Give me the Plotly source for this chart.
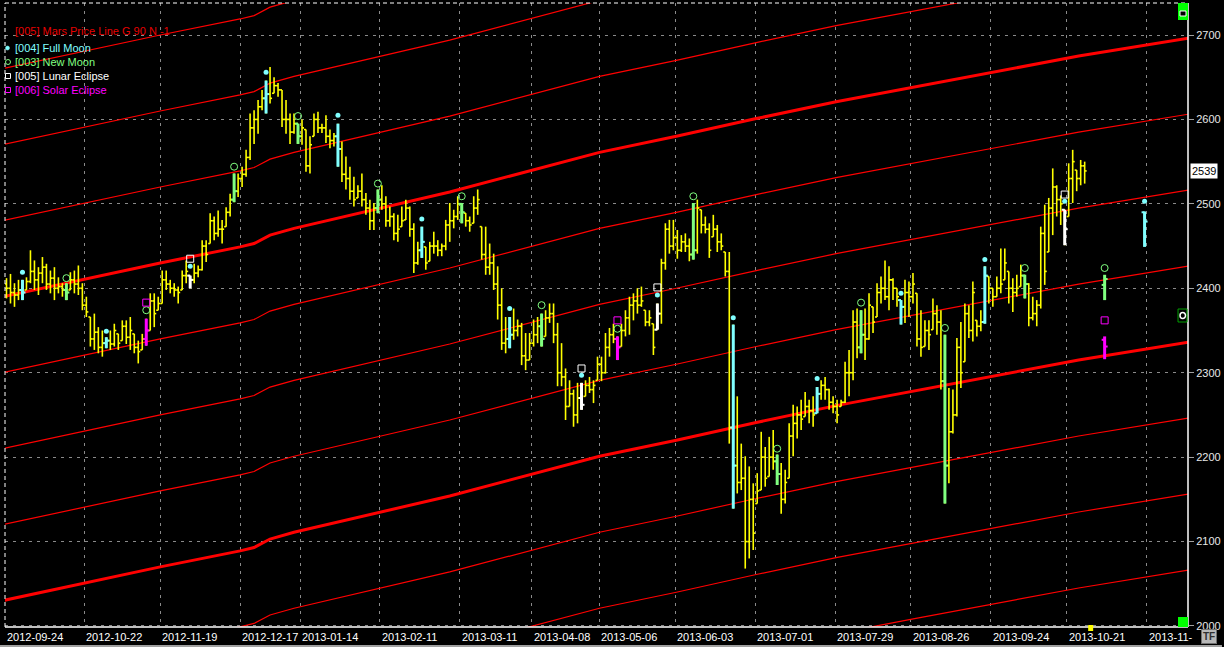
import plotly.graph_objects as go

# ---------------- data ----------------
date_labels = ["2012-09-24", "2012-10-22", "2012-11-19", "2012-12-17", "2013-01-14",
               "2013-02-11", "2013-03-11", "2013-04-08", "2013-05-06", "2013-06-03",
               "2013-07-01", "2013-07-29", "2013-08-26", "2013-09-24", "2013-10-21", "2013-11-"]
date_idx = [0, 20, 39, 59, 74, 94, 114, 132, 149, 168, 188, 208, 227, 247, 266, 286]

bar_hi = [2412, 2417, 2406, 2410, 2410, 2413, 2445, 2433, 2425, 2437, 2429, 2421, 2425, 2413, 2406, 2406,
          2419, 2421, 2427, 2406, 2390, 2366, 2370, 2354, 2350, 2342, 2350, 2358, 2346, 2362, 2362, 2366,
          2346, 2338, 2346, 2364, 2394, 2394, 2390, 2421, 2421, 2410, 2406, 2402, 2421, 2433, 2415, 2429,
          2427, 2457, 2457, 2489, 2485, 2492, 2481, 2496, 2512, 2536, 2536, 2544, 2564, 2607, 2611, 2623,
          2635, 2646, 2662, 2650, 2643, 2635, 2623, 2607, 2607, 2595, 2600, 2588, 2580, 2607, 2609, 2595,
          2605, 2588, 2584, 2595, 2574, 2556, 2544, 2532, 2522, 2536, 2513, 2505, 2501, 2517, 2522, 2509,
          2497, 2489, 2487, 2497, 2505, 2497, 2477, 2455, 2473, 2449, 2455, 2467, 2457, 2453, 2481, 2501,
          2493, 2509, 2501, 2489, 2485, 2509, 2517, 2473, 2473, 2453, 2441, 2426, 2400, 2366, 2366, 2376,
          2363, 2359, 2347, 2347, 2363, 2366, 2370, 2374, 2382, 2382, 2359, 2335, 2305, 2291, 2280, 2288,
          2288, 2291, 2295, 2291, 2319, 2319, 2347, 2353, 2358, 2343, 2358, 2374, 2390, 2394, 2400, 2402,
          2374, 2374, 2358, 2382, 2435, 2477, 2481, 2481, 2469, 2463, 2465, 2459, 2501, 2505, 2493, 2485,
          2477, 2487, 2475, 2465, 2443, 2443, 2357, 2272, 2216, 2201, 2189, 2169, 2181, 2230, 2212, 2224,
          2232, 2203, 2193, 2185, 2240, 2262, 2260, 2268, 2277, 2268, 2272, 2283, 2291, 2295, 2281, 2272,
          2268, 2268, 2313, 2327, 2374, 2376, 2374, 2376, 2394, 2378, 2406, 2414, 2433, 2426, 2412, 2400,
          2386, 2410, 2408, 2418, 2394, 2374, 2362, 2362, 2388, 2380, 2374, 2345, 2282, 2280, 2341, 2360,
          2382, 2380, 2408, 2362, 2374, 2426, 2414, 2400, 2414, 2447, 2447, 2420, 2412, 2416, 2428, 2416,
          2406, 2390, 2386, 2473, 2499, 2507, 2542, 2522, 2510, 2493, 2548, 2564, 2540, 2552, 2550]

bar_lo = [2388, 2382, 2378, 2386, 2386, 2398, 2406, 2398, 2392, 2406, 2398, 2394, 2386, 2394, 2390, 2386,
          2398, 2394, 2392, 2374, 2366, 2331, 2327, 2323, 2319, 2329, 2327, 2331, 2327, 2338, 2334, 2327,
          2323, 2311, 2327, 2332, 2350, 2354, 2374, 2382, 2398, 2394, 2390, 2382, 2398, 2406, 2400, 2406,
          2413, 2421, 2431, 2453, 2457, 2461, 2453, 2473, 2485, 2502, 2508, 2520, 2532, 2552, 2571, 2583,
          2611, 2607, 2619, 2631, 2627, 2591, 2583, 2571, 2583, 2571, 2570, 2538, 2536, 2580, 2584, 2584,
          2572, 2566, 2568, 2544, 2526, 2517, 2505, 2497, 2507, 2497, 2487, 2469, 2469, 2489, 2493, 2473,
          2473, 2457, 2455, 2473, 2481, 2461, 2418, 2428, 2436, 2422, 2432, 2441, 2438, 2438, 2445, 2455,
          2471, 2481, 2477, 2473, 2467, 2477, 2487, 2434, 2416, 2416, 2398, 2363, 2327, 2323, 2329, 2339,
          2343, 2309, 2303, 2315, 2331, 2335, 2331, 2343, 2359, 2335, 2284, 2284, 2244, 2260, 2236, 2240,
          2256, 2272, 2276, 2264, 2291, 2290, 2299, 2319, 2335, 2315, 2331, 2343, 2345, 2362, 2370, 2378,
          2355, 2355, 2321, 2351, 2358, 2422, 2441, 2445, 2435, 2443, 2443, 2432, 2434, 2441, 2465, 2465,
          2436, 2461, 2443, 2445, 2414, 2216, 2139, 2157, 2161, 2068, 2080, 2090, 2145, 2161, 2165, 2177,
          2185, 2167, 2133, 2145, 2175, 2201, 2222, 2232, 2248, 2240, 2236, 2252, 2268, 2268, 2256, 2252,
          2240, 2260, 2264, 2272, 2291, 2317, 2323, 2315, 2339, 2347, 2366, 2382, 2386, 2374, 2386, 2378,
          2357, 2359, 2366, 2382, 2331, 2319, 2331, 2327, 2351, 2345, 2280, 2145, 2169, 2228, 2248, 2282,
          2313, 2341, 2337, 2343, 2349, 2358, 2382, 2378, 2390, 2394, 2410, 2382, 2372, 2390, 2402, 2388,
          2355, 2362, 2355, 2376, 2404, 2443, 2463, 2485, 2475, 2451, 2485, 2501, 2515, 2522, 2524]

bar_op = [2405, 2400, 2395, 2392, 2398, 2398, 2408, 2420, 2410, 2418, 2425, 2405, 2412, 2400, 2402, 2398,
          2398, 2410, 2405, 2400, 2380, 2366, 2340, 2348, 2330, 2335, 2338, 2334, 2346, 2338, 2355, 2342,
          2346, 2330, 2327, 2340, 2350, 2385, 2374, 2382, 2410, 2405, 2400, 2398, 2398, 2415, 2415, 2410,
          2418, 2422, 2450, 2453, 2480, 2465, 2470, 2473, 2490, 2505, 2515, 2530, 2535, 2555, 2590, 2600,
          2615, 2625, 2630, 2631, 2640, 2635, 2600, 2600, 2585, 2595, 2580, 2588, 2545, 2580, 2600, 2590,
          2590, 2580, 2575, 2580, 2565, 2535, 2530, 2515, 2507, 2515, 2505, 2495, 2480, 2495, 2505, 2500,
          2480, 2485, 2465, 2473, 2481, 2495, 2470, 2430, 2445, 2449, 2432, 2450, 2450, 2445, 2450, 2475,
          2480, 2485, 2500, 2489, 2480, 2477, 2495, 2473, 2440, 2425, 2430, 2405, 2380, 2335, 2340, 2345,
          2350, 2355, 2320, 2315, 2335, 2345, 2355, 2343, 2365, 2370, 2345, 2300, 2295, 2260, 2275, 2250,
          2270, 2272, 2285, 2280, 2291, 2310, 2300, 2330, 2345, 2340, 2331, 2350, 2365, 2380, 2385, 2380,
          2374, 2360, 2358, 2351, 2370, 2430, 2470, 2450, 2460, 2445, 2455, 2450, 2440, 2445, 2493, 2475,
          2470, 2461, 2470, 2455, 2443, 2420, 2235, 2190, 2170, 2175, 2100, 2150, 2145, 2161, 2200, 2177,
          2200, 2195, 2180, 2150, 2175, 2225, 2240, 2250, 2248, 2260, 2255, 2252, 2275, 2285, 2280, 2265,
          2260, 2260, 2265, 2300, 2300, 2360, 2330, 2345, 2340, 2378, 2366, 2395, 2400, 2390, 2410, 2400,
          2386, 2378, 2395, 2390, 2394, 2340, 2331, 2350, 2351, 2370, 2360, 2290, 2190, 2230, 2250, 2330,
          2313, 2370, 2350, 2362, 2355, 2360, 2414, 2400, 2390, 2400, 2410, 2420, 2400, 2395, 2402, 2415,
          2405, 2365, 2370, 2380, 2465, 2443, 2495, 2520, 2505, 2493, 2485, 2530, 2540, 2530, 2545]

bar_cl = [2400, 2395, 2392, 2398, 2395, 2408, 2420, 2410, 2418, 2425, 2405, 2412, 2400, 2402, 2398, 2395,
          2410, 2405, 2400, 2380, 2372, 2340, 2348, 2330, 2335, 2338, 2334, 2350, 2335, 2355, 2342, 2350,
          2330, 2325, 2340, 2350, 2385, 2370, 2382, 2410, 2405, 2400, 2398, 2395, 2415, 2420, 2410, 2418,
          2422, 2450, 2440, 2480, 2465, 2470, 2470, 2490, 2505, 2515, 2530, 2535, 2555, 2590, 2600, 2615,
          2625, 2630, 2625, 2640, 2635, 2600, 2600, 2585, 2595, 2580, 2590, 2545, 2570, 2600, 2590, 2590,
          2580, 2575, 2580, 2565, 2535, 2530, 2515, 2505, 2515, 2505, 2495, 2480, 2495, 2505, 2500, 2480,
          2485, 2465, 2470, 2480, 2495, 2470, 2430, 2445, 2455, 2430, 2450, 2450, 2445, 2450, 2475, 2480,
          2485, 2500, 2490, 2480, 2475, 2495, 2505, 2440, 2425, 2430, 2405, 2380, 2335, 2340, 2345, 2350,
          2355, 2320, 2315, 2335, 2345, 2355, 2340, 2365, 2370, 2345, 2300, 2295, 2260, 2275, 2250, 2270,
          2262, 2285, 2280, 2285, 2310, 2300, 2330, 2345, 2340, 2330, 2350, 2365, 2380, 2385, 2380, 2385,
          2360, 2365, 2330, 2370, 2430, 2470, 2450, 2460, 2445, 2455, 2450, 2440, 2445, 2495, 2475, 2470,
          2445, 2470, 2455, 2450, 2420, 2235, 2190, 2170, 2175, 2100, 2150, 2110, 2160, 2200, 2175, 2200,
          2195, 2180, 2150, 2170, 2225, 2240, 2250, 2245, 2260, 2255, 2250, 2275, 2285, 2280, 2265, 2260,
          2250, 2265, 2300, 2300, 2360, 2330, 2345, 2340, 2380, 2360, 2395, 2400, 2390, 2410, 2400, 2390,
          2378, 2395, 2390, 2405, 2340, 2330, 2350, 2345, 2370, 2360, 2290, 2190, 2230, 2250, 2330, 2300,
          2370, 2350, 2395, 2355, 2360, 2415, 2400, 2390, 2400, 2405, 2430, 2400, 2395, 2400, 2415, 2405,
          2365, 2370, 2380, 2465, 2420, 2495, 2520, 2505, 2500, 2470, 2530, 2550, 2530, 2545, 2539]

# astro events (bar index) and the marker level drawn above each bar
full_moon_idx = [4, 25, 46, 65, 83, 104, 126, 144, 163, 182, 203, 224, 245, 265]
full_moon_mark = [2419, 2349, 2426, 2656, 2605, 2482, 2376, 2297, 2392, 2365, 2293, 2394, 2434, 2503]
new_moon_idx = [15, 35, 57, 73, 93, 114, 134, 153, 172, 193, 214, 235, 255]
new_moon_mark = [2412, 2374, 2544, 2604, 2524, 2509, 2380, 2352, 2509, 2210, 2383, 2353, 2424]
lunar_ecl_idx = [46, 144, 163, 265]
lunar_ecl_mark = [2435, 2305, 2401, 2511]
solar_ecl_idx = [35, 153]
solar_ecl_mark = [2383, 2362]

# projected event bars beyond the last price bar
proj_fm = dict(idx=[285], o=[2490], h=[2491], l=[2449], c=[2479], mark=[2503])
proj_nm = dict(idx=[275], o=[2404], h=[2416], l=[2386], c=[2411], mark=[2424])
proj_se = dict(idx=[275], o=[2339], h=[2343], l=[2316], c=[2331], mark=[2362])

# Mars price line (reference harmonic) and the 90-unit harmonics
mars_idx = [-1, 38.5, 58.5, 62, 66, 72, 111, 131, 148.5, 167.75, 187.75, 207.75, 227.75, 256, 268.5, 297]
mars_val = [2390, 2430, 2449, 2453, 2463, 2471, 2514, 2539, 2561, 2580, 2601, 2621, 2639, 2664, 2675, 2697]
mars_offsets = [-630, -540, -450, -360, -270, -180, -90, 0, 90, 180, 270]
mars_thick = [0, -360]

y_ticks = [2000, 2100, 2200, 2300, 2400, 2500, 2600, 2700]

# ---------------- colours / layout constants ----------------
YEL = "#FFFF00"
CYAN = "#80FFFF"
GREEN = "#80FF80"
WHITE = "#FFFFFF"
MAG = "#FF00FF"
RED = "#FF0000"
FONT = "Liberation Sans, Arial, sans-serif"

W, H = 1224, 647
ML, MR, MT, MB = 5, 34, 3, 20
PW = W - ML - MR
PH = H - MT - MB
X0 = -0.375
X1 = X0 + PW / 4.0
Y0, Y1 = 1998.8, 2737.9


def px(x):
    return (x - ML) / PW


def py(y):
    return (H - MB - y) / PH


fig = go.Figure()

# Mars lines
for off in mars_offsets:
    thick = off in mars_thick
    fig.add_trace(go.Scatter(
        x=mars_idx, y=[v + off for v in mars_val], mode="lines",
        line=dict(color=RED, width=3 if thick else 1.2),
        hoverinfo="skip", showlegend=False))


def bar_traces(idx, o, h, l, c, color, vwidth, twidth, tlen):
    xv, yv, xt, yt = [], [], [], []
    for i, oo, hh, ll, cc in zip(idx, o, h, l, c):
        xv += [i, i, None]
        yv += [ll, hh, None]
        xt += [i - tlen, i, None, i, i + tlen, None]
        yt += [oo, oo, None, cc, cc, None]
    fig.add_trace(go.Scatter(x=xv, y=yv, mode="lines", line=dict(color=color, width=vwidth),
                             hoverinfo="skip", showlegend=False))
    fig.add_trace(go.Scatter(x=xt, y=yt, mode="lines", line=dict(color=color, width=twidth),
                             hoverinfo="skip", showlegend=False))


# yellow OHLC bars (every price bar)
n = len(bar_hi)
bar_traces(list(range(n)), bar_op, bar_hi, bar_lo, bar_cl, YEL, 1.6, 1.6, 0.5)


def pick(idx_list):
    return ([bar_op[i] for i in idx_list], [bar_hi[i] for i in idx_list],
            [bar_lo[i] for i in idx_list], [bar_cl[i] for i in idx_list])


fm_plain = [i for i in full_moon_idx if i not in lunar_ecl_idx]
nm_plain = [i for i in new_moon_idx if i not in solar_ecl_idx]

bar_traces(fm_plain, *pick(fm_plain), CYAN, 3, 2, 0.75)
bar_traces(nm_plain, *pick(nm_plain), GREEN, 3, 2, 0.75)
bar_traces(lunar_ecl_idx, *pick(lunar_ecl_idx), WHITE, 3, 2, 0.75)
bar_traces(solar_ecl_idx, *pick(solar_ecl_idx), MAG, 3, 2, 0.75)
bar_traces(proj_fm["idx"], proj_fm["o"], proj_fm["h"], proj_fm["l"], proj_fm["c"], CYAN, 3, 2, 0.75)
bar_traces(proj_nm["idx"], proj_nm["o"], proj_nm["h"], proj_nm["l"], proj_nm["c"], GREEN, 3, 2, 0.75)
bar_traces(proj_se["idx"], proj_se["o"], proj_se["h"], proj_se["l"], proj_se["c"], MAG, 3, 2, 0.75)

# event markers
fig.add_trace(go.Scatter(x=full_moon_idx + proj_fm["idx"], y=full_moon_mark + proj_fm["mark"],
                         mode="markers", marker=dict(symbol="circle", size=5, color=CYAN),
                         hoverinfo="skip", showlegend=False))
fig.add_trace(go.Scatter(x=new_moon_idx + proj_nm["idx"], y=new_moon_mark + proj_nm["mark"],
                         mode="markers",
                         marker=dict(symbol="circle-open", size=7, color=GREEN, line=dict(width=1)),
                         hoverinfo="skip", showlegend=False))
fig.add_trace(go.Scatter(x=lunar_ecl_idx, y=lunar_ecl_mark, mode="markers",
                         marker=dict(symbol="square-open", size=7, color=WHITE, line=dict(width=1)),
                         hoverinfo="skip", showlegend=False))
fig.add_trace(go.Scatter(x=solar_ecl_idx + proj_se["idx"], y=solar_ecl_mark + proj_se["mark"],
                         mode="markers",
                         marker=dict(symbol="square-open", size=7, color=MAG, line=dict(width=1)),
                         hoverinfo="skip", showlegend=False))

shapes = []
# plot frame: dashed white left/top, solid white right/bottom
shapes.append(dict(type="line", xref="paper", yref="paper", x0=0, x1=0, y0=0, y1=1,
                   line=dict(color=WHITE, width=1, dash="4px,3px")))
shapes.append(dict(type="line", xref="paper", yref="paper", x0=0, x1=1, y0=1, y1=1,
                   line=dict(color=WHITE, width=1, dash="4px,3px")))
shapes.append(dict(type="line", xref="paper", yref="paper", x0=1, x1=1, y0=0, y1=1,
                   line=dict(color=WHITE, width=1.5)))
shapes.append(dict(type="line", xref="paper", yref="paper", x0=0, x1=1, y0=0, y1=0,
                   line=dict(color=WHITE, width=1.5)))
# corner widgets
shapes.append(dict(type="rect", xref="paper", yref="paper", x0=px(1180), x1=px(1190),
                   y0=py(20), y1=py(3), fillcolor="#00FF00", line=dict(width=0)))
shapes.append(dict(type="rect", xref="paper", yref="paper", x0=px(1182), x1=px(1188),
                   y0=py(16), y1=py(11), fillcolor="#000000", line=dict(color=WHITE, width=1)))
shapes.append(dict(type="rect", xref="paper", yref="paper", x0=px(1180), x1=px(1190),
                   y0=py(627), y1=py(617), fillcolor="#00FF00", line=dict(width=0)))
shapes.append(dict(type="rect", xref="paper", yref="paper", x0=px(1180), x1=px(1189),
                   y0=py(322), y1=py(309), fillcolor="#000000", line=dict(color="#00A000", width=1)))
shapes.append(dict(type="circle", xref="paper", yref="paper", x0=px(1182), x1=px(1187.5),
                   y0=py(318.5), y1=py(312.5), fillcolor="#000000", line=dict(color=WHITE, width=1.5)))
# current-bar marker on time axis
shapes.append(dict(type="rect", xref="paper", yref="paper", x0=px(1090), x1=px(1095),
                   y0=py(631), y1=py(625), fillcolor=YEL, line=dict(width=0)))
# bottom grey strip
shapes.append(dict(type="rect", xref="paper", yref="paper", x0=px(0), x1=px(1224),
                   y0=py(648), y1=py(645), fillcolor="#A0A0A0", line=dict(width=0)))
# legend symbols
shapes.append(dict(type="circle", xref="paper", yref="paper", x0=px(5.5), x1=px(9.5),
                   y0=py(50), y1=py(46), fillcolor=CYAN, line=dict(color=CYAN, width=0.5)))
shapes.append(dict(type="circle", xref="paper", yref="paper", x0=px(5.5), x1=px(10.5),
                   y0=py(64.5), y1=py(59.5), fillcolor="rgba(0,0,0,0)", line=dict(color=GREEN, width=1)))
shapes.append(dict(type="rect", xref="paper", yref="paper", x0=px(5.5), x1=px(10.5),
                   y0=py(78.5), y1=py(73.5), fillcolor="rgba(0,0,0,0)", line=dict(color=WHITE, width=1)))
shapes.append(dict(type="rect", xref="paper", yref="paper", x0=px(5.5), x1=px(10.5),
                   y0=py(92.5), y1=py(87.5), fillcolor="rgba(0,0,0,0)", line=dict(color=MAG, width=1)))

annotations = []
for lbl, i in zip(date_labels, date_idx):
    annotations.append(dict(x=max(i - 0.5, X0 + 0.05), y=0, xref="x", yref="paper", text=lbl,
                            showarrow=False, xanchor="left", yanchor="top", yshift=-2,
                            font=dict(family=FONT, size=11, color=WHITE)))

legend_rows = [("[005] Mars Price Line G 90 N -1", 31, "#E80000"),
               ("[004] Full Moon", 48, CYAN),
               ("[003] New Moon", 62, GREEN),
               ("[005] Lunar Eclipse", 76, WHITE),
               ("[006] Solar Eclipse", 90, MAG)]
for txt, yy, col in legend_rows:
    annotations.append(dict(x=px(13), y=py(yy), xref="paper", yref="paper", text=txt,
                            showarrow=False, xanchor="left", yanchor="middle",
                            font=dict(family=FONT, size=11, color=col)))

# last price box
annotations.append(dict(x=1, y=bar_cl[-1], xref="paper", yref="y", text=str(bar_cl[-1]),
                        showarrow=False, xanchor="left", yanchor="middle", xshift=2,
                        bgcolor=WHITE, borderpad=1,
                        font=dict(family=FONT, size=11, color="#000000")))
# TF button
annotations.append(dict(x=px(1203), y=py(629), xref="paper", yref="paper", text="<b>TF</b>",
                        showarrow=False, xanchor="left", yanchor="top",
                        bgcolor="#B8B8B8", bordercolor="#707070", borderwidth=1, borderpad=1,
                        font=dict(family=FONT, size=10, color="#303030")))

fig.update_layout(
    width=W, height=H,
    margin=dict(l=ML, r=MR, t=MT, b=MB),
    paper_bgcolor="#000000", plot_bgcolor="#000000",
    showlegend=False,
    shapes=shapes, annotations=annotations,
    xaxis=dict(range=[X0, X1], tickvals=[i - 0.5 for i in date_idx[1:]], showticklabels=False,
               ticks="", showgrid=True, gridcolor="#8a8a8a", griddash="3px,5px", gridwidth=1,
               zeroline=False, showline=False, fixedrange=True),
    yaxis=dict(range=[Y0, Y1], side="right", tickvals=y_ticks, ticktext=[str(v) for v in y_ticks],
               showgrid=True, gridcolor="#8a8a8a", griddash="3px,5px", gridwidth=1,
               ticks="outside", ticklen=5, tickcolor="#a0a0a0", tickwidth=1,
               tickfont=dict(family=FONT, size=11, color="#E8E8E8"),
               zeroline=False, showline=False, fixedrange=True),
)

fig.write_html("out.html", config={"displayModeBar": False},
               post_script="document.body.style.margin='0';document.body.style.background='#000';")
